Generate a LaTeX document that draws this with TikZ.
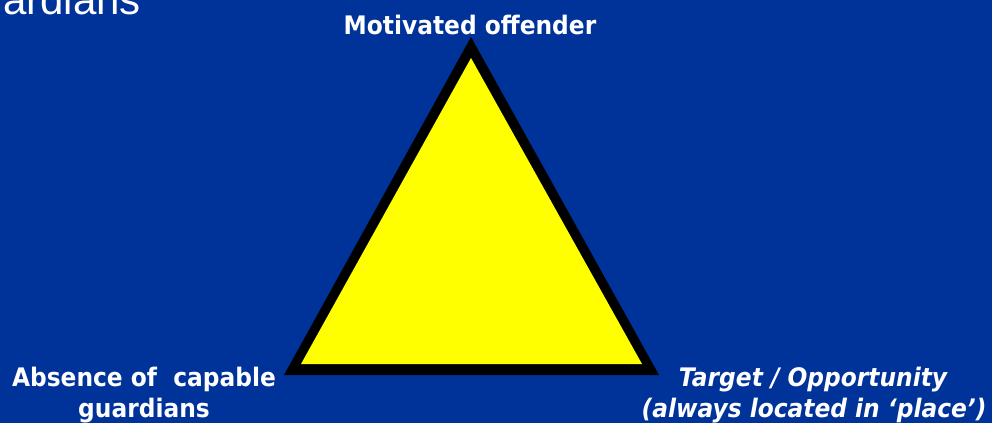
\documentclass[tikz,border=0pt]{standalone}
\usepackage{fontspec}
\setmainfont{DejaVu Sans}
\newfontfamily\lblfont[FakeStretch=0.915]{DejaVu Sans}
\newfontfamily\titlefont{Liberation Sans}
\definecolor{bgblue}{HTML}{003399}
\definecolor{triyellow}{HTML}{FFFF00}
\begin{document}
\begin{tikzpicture}[x=1pt,y=-1pt,
  lbl/.style={text=white,font=\lblfont\bfseries\fontsize{25.5}{30}\selectfont,inner sep=0pt,anchor=base},
  lbli/.style={lbl,font=\lblfont\bfseries\itshape\fontsize{25.5}{30}\selectfont}]
\useasboundingbox (0,0) rectangle (992,423);
\clip (0,0) rectangle (992,423);
\fill[bgblue] (0,0) rectangle (992,423);
% partial title
\node[text=white,font=\titlefont\fontsize{42}{50}\selectfont,inner sep=0pt,anchor=base east] (title) at (141,14) {guardians};
% triangle
\coordinate (oA) at (471,37);
\coordinate (oB) at (284,375);
\coordinate (oC) at (659,375);
\coordinate (iA) at (471,58);
\coordinate (iB) at (301,364);
\coordinate (iC) at (642,364);
\fill[black] (oA) -- (oB) -- (oC) -- cycle;
\fill[triyellow] (iA) -- (iB) -- (iC) -- cycle;
% labels
\node[lbl] (top) at (470,34.5) {Motivated offender};
\node[lbl] (left1) at (144,386) {Absence of\ \ capable};
\node[lbl] (left2) at (144,417.5) {guardians};
\node[lbli] (right1) at (813,386) {Target / Opportunity};
\node[lbli] (right2) at (814,417.5) {(always located in ‘place’)};
\end{tikzpicture}
\end{document}
